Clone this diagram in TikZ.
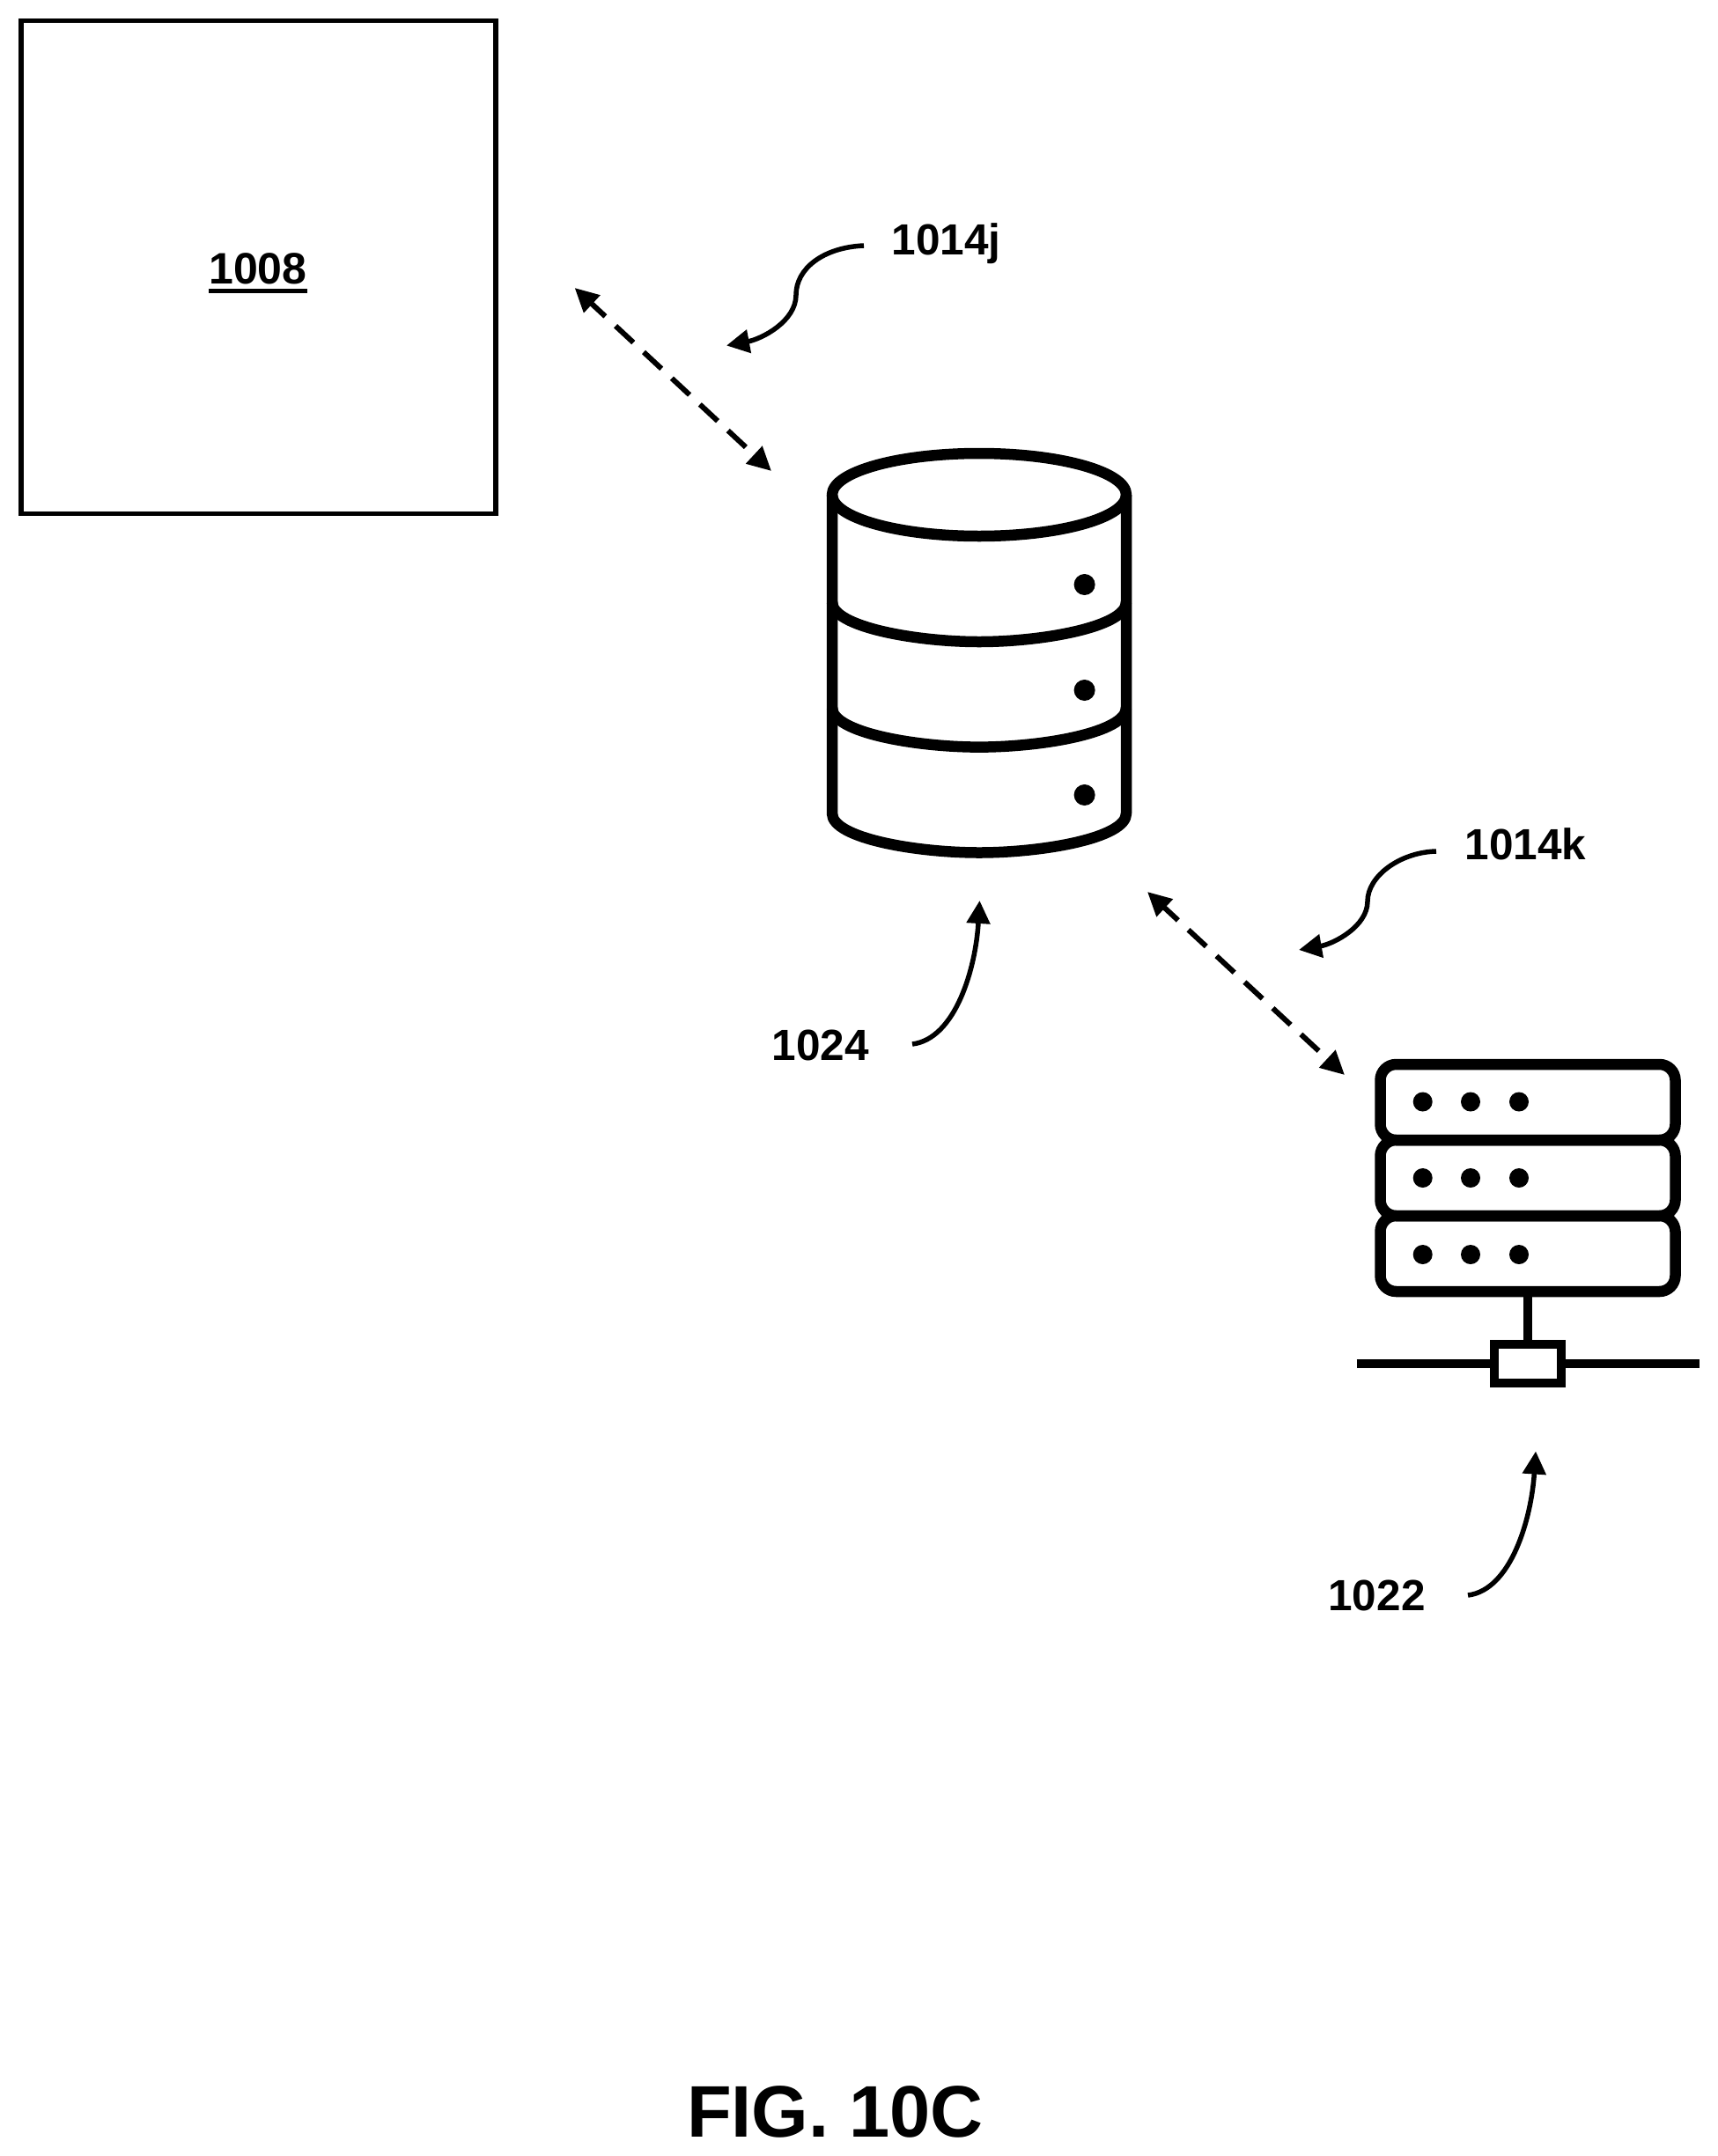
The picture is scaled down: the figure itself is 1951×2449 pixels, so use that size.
\documentclass[tikz,border=0pt]{standalone}
\usepackage{fontspec}
\setmainfont{Liberation Sans}
\usetikzlibrary{arrows.meta}
\tikzset{
  lbl/.style={inner sep=0pt,outer sep=0pt,anchor=base,font=\fontsize{49.5}{56}\selectfont\bfseries},
  link/.style={line width=6pt,dash pattern=on 27.6pt off 16pt,dash phase=5.6pt,
    {Triangle[length=27pt,width=26pt]}-{Triangle[length=27pt,width=26pt]}},
  lead/.style={line width=5.5pt,-{Triangle[length=26pt,width=26pt]}},
  ico/.style={line width=12.5pt,line join=round},
  srv/.style={draw,line width=12.5pt,rounded corners=18pt,minimum width=335pt,minimum height=86pt,inner sep=0pt,outer sep=0pt},
  pt/.style={circle,fill=black,inner sep=0pt,minimum size=#1},
}
\begin{document}
\begin{tikzpicture}[x=1pt,y=-1pt]
\useasboundingbox (0,0) rectangle (1951,2449);
% box 1008
\node[draw,line width=5.5pt,minimum width=539pt,minimum height=559.6pt,inner sep=0pt] (box) at (293.3,303.5) {};
\node[lbl,font=\fontsize{50}{58}\selectfont\bfseries] (t1008) at (293,322.6) {1008};
\coordinate (ulL) at (237,330);
\coordinate (ulR) at (349,330);
\draw[line width=5pt] (ulL) -- (ulR);
% link 1014j
\coordinate (j1) at (652.6,327);
\coordinate (j2) at (876,535);
\draw[link] (j1) -- (j2);
\node[lbl] (t1014j) at (1074.5,289) {1014j};
\coordinate (ja) at (981,279);
\coordinate (jm) at (904,335);
\coordinate (jb) at (825,392.5);
\draw[lead] (ja) .. controls (935,281) and (904,305) .. (jm) .. controls (904,365) and (865,385) .. (jb);
% database
\draw[ico] (1112,562) ellipse [x radius=167pt,y radius=47pt];
\draw[ico] (945,562) -- (945,924) .. controls (945,952) and (1040,968.5) .. (1112,968.5) .. controls (1184,968.5) and (1279,952) .. (1279,924) -- (1279,562);
\draw[ico] (945,684) .. controls (945,712) and (1040,729) .. (1112,729) .. controls (1184,729) and (1279,712) .. (1279,684);
\draw[ico] (945,804) .. controls (945,832) and (1040,848.6) .. (1112,848.6) .. controls (1184,848.6) and (1279,832) .. (1279,804);
\node[pt=24pt] (d1) at (1231.6,664) {};
\node[pt=24pt] (d2) at (1231.6,784) {};
\node[pt=24pt] (d3) at (1231.6,903) {};
% 1024
\node[lbl] (t1024) at (932,1204) {1024};
\coordinate (da) at (1036,1186);
\coordinate (db) at (1112.5,1023);
\draw[lead] (da) .. controls (1085,1180) and (1108,1100) .. (db);
% link 1014k
\coordinate (k1) at (1303,1013);
\coordinate (k2) at (1527,1221);
\draw[link] (k1) -- (k2);
\node[lbl] (t1014k) at (1732.5,976) {1014k};
\coordinate (ka) at (1631,967);
\coordinate (km) at (1553,1024);
\coordinate (kb) at (1475,1079);
\draw[lead] (ka) .. controls (1590,968) and (1553,995) .. (km) .. controls (1553,1052) and (1515,1072) .. (kb);
% server
\node[srv] (s1) at (1735,1252) {};
\node[srv] (s2) at (1735,1338) {};
\node[srv] (s3) at (1735,1424) {};
\foreach \r/\y in {1/1251.5,2/1338,3/1425}{
  \node[pt=22pt] (a\r) at (1615.7,\y) {};
  \node[pt=22pt] (b\r) at (1670,\y) {};
  \node[pt=22pt] (c\r) at (1725,\y) {};
}
\node[draw,line width=10pt,minimum width=76pt,minimum height=44pt,inner sep=0pt,outer sep=0pt] (jack) at (1735,1549) {};
\coordinate (nl) at (1540.6,1549);
\coordinate (nr) at (1929.5,1549);
\draw[line width=10.5pt] (s3.south) -- (jack.north);
\draw[line width=10.5pt] (nl) -- (jack.west);
\draw[line width=10.5pt] (jack.east) -- (nr);
% 1022
\node[lbl] (t1022) at (1563.5,1829) {1022};
\coordinate (sa) at (1667,1812);
\coordinate (sb) at (1744,1648.5);
\draw[lead] (sa) .. controls (1716,1806) and (1739,1725) .. (sb);
% caption
\node[lbl,font=\fontsize{83}{90}\selectfont\bfseries] (cap) at (948.5,2427.7) {FIG. 10C};
\end{tikzpicture}
\end{document}
